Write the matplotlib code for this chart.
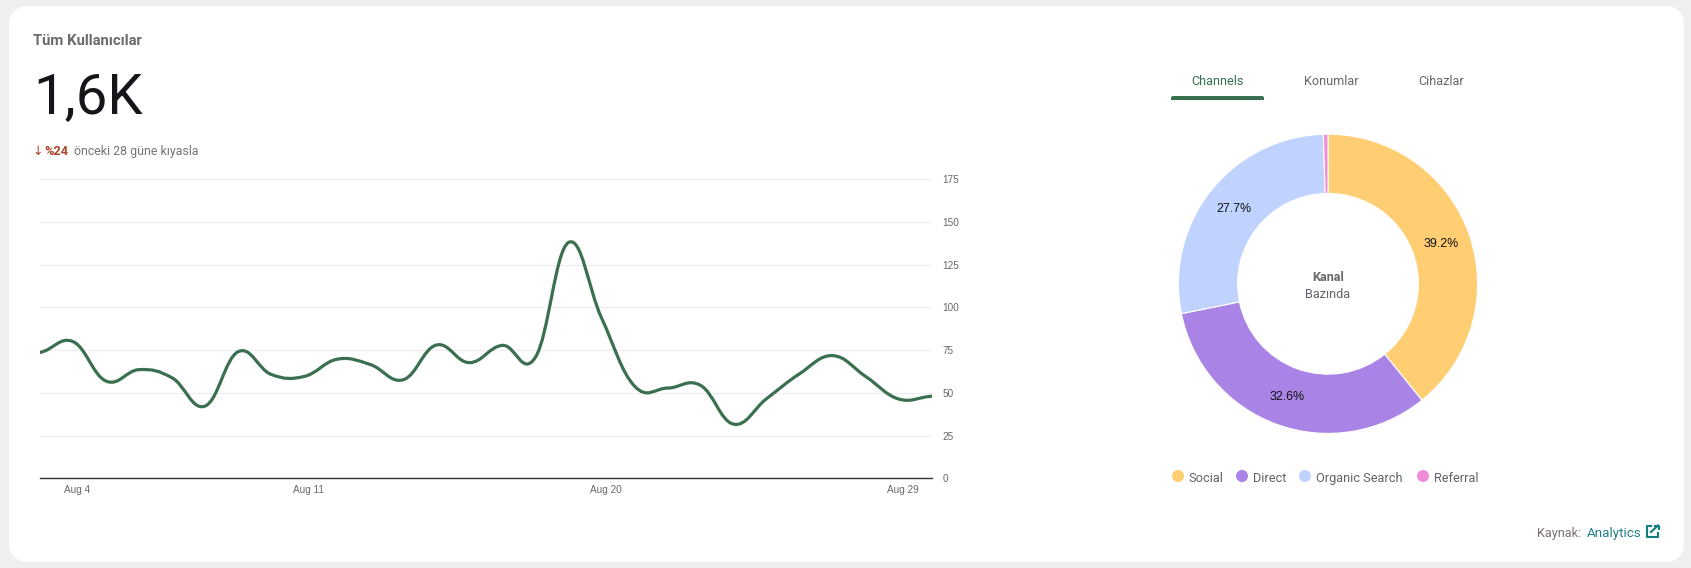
import matplotlib
matplotlib.use('Agg')
import matplotlib.pyplot as plt
from matplotlib.patches import FancyBboxPatch, PathPatch, Circle, Rectangle
from matplotlib.path import Path

# daily users, Aug 3 - Aug 30
users = [73.7, 80, 56.9, 63.6, 58.8, 42.3, 74.1, 60.8, 59.6, 69.7, 66.6, 57.7, 78, 67.7,
         77.8, 70.8, 138, 94, 54, 52.8, 54.4, 31.7, 46.6, 61.2, 71.8, 59.6, 46.4, 48]
tick_days = [1, 8, 17, 26]
tick_names = ['Aug 4', 'Aug 11', 'Aug 20', 'Aug 29']
y_ticks = [0, 25, 50, 75, 100, 125, 150, 175]

channels = ['Social', 'Direct', 'Organic Search', 'Referral']
shares = [39.2, 32.6, 27.7, 0.5]
channel_colors = ['#ffce73', '#a984e6', '#c0d3ff', '#ef8ed6']

W, H = 1691, 568
GREEN = '#3a7050'
GREY = '#5f6368'
plt.rcParams['font.family'] = ['Roboto', 'DejaVu Sans']

fig = plt.figure(figsize=(W / 100, H / 100), dpi=100, facecolor='#efefef')


def box(x0, y0, x1, y1):
    # pixel box (y from the top) -> figure fractions
    return [x0 / W, 1 - y1 / H, (x1 - x0) / W, (y1 - y0) / H]


# canvas in pixels for the card and all the loose text
cv = fig.add_axes([0, 0, 1, 1], zorder=0)
cv.set_xlim(0, W)
cv.set_ylim(H, 0)
cv.axis('off')
cv.add_patch(FancyBboxPatch((9 + 20, 6 + 20), 1675 - 40, 556 - 40, boxstyle='round,pad=20,rounding_size=20',
                            fc='white', ec='none'))


def label(x, y, s, size, color=GREY, ha='left', weight='normal'):
    return cv.text(x, y, s, fontsize=size, color=color, ha=ha, va='center_baseline', fontweight=weight)


label(33, 39.5, 'Tüm Kullanıcılar', 10.7, '#6a6a6a', weight='bold')
cv.text(33, 113.3, '1,6K', fontsize=40.5, color='#14161a', va='baseline')
label(32, 150, '↓', 9, '#a8452a')
label(44, 150, '%24', 9.2, '#a8452a', weight='bold')
label(74, 150, 'önceki 28 güne kıyasla', 8.9, '#70757a')

# line chart
ax = fig.add_axes(box(40, 179.3, 931.7, 478.3), zorder=1)
ax.patch.set_visible(False)
ax.set_xlim(0, len(users) - 1)
ax.set_ylim(0, 175)
for s in ['top', 'left', 'right']:
    ax.spines[s].set_visible(False)
ax.spines['bottom'].set_color('#333333')
ax.spines['bottom'].set_linewidth(1)
ax.set_yticks(y_ticks)
ax.yaxis.tick_right()
ax.grid(axis='y', color='#ededf1', linewidth=0.8)
ax.set_axisbelow(True)
ax.set_xticks([d + 0.12 for d in tick_days])
ax.set_xticklabels(tick_names)
ax.tick_params(length=0, colors='#666666', labelsize=7.2, labelfontfamily='Liberation Sans')
ax.tick_params(axis='y', pad=7.6)
ax.tick_params(axis='x', pad=4.5)

# curve through the daily values, same tension idea as the web chart
t = 0.2
verts = [(0, users[0])]
codes = [Path.MOVETO]
for i in range(len(users) - 1):
    prev = users[max(i - 1, 0)]
    nxt = users[min(i + 2, len(users) - 1)]
    verts += [(i + 2 * t, users[i] + t * (users[i + 1] - prev)),
              (i + 1 - 2 * t, users[i + 1] - t * (nxt - users[i])),
              (i + 1, users[i + 1])]
    codes += [Path.CURVE4] * 3
ax.add_patch(PathPatch(Path(verts, codes), fc='none', ec=GREEN, lw=2.3, capstyle='round'))

# donut
ax2 = fig.add_axes(box(1328 - 149.6, 283.8 - 149.6, 1328 + 149.6, 283.8 + 149.6), zorder=1)
ax2.patch.set_visible(False)
wedges, _, pct = ax2.pie(shares, colors=channel_colors, startangle=90, counterclock=False,
                         radius=1, wedgeprops=dict(width=0.396, edgecolor='white', linewidth=0.8),
                         autopct=lambda p: f'{p:.1f}%' if p > 5 else '', pctdistance=0.802,
                         textprops=dict(fontsize=8.9, color='#111111', family='Liberation Sans'))
ax2.set_xlim(-1, 1)
ax2.set_ylim(-1, 1)

label(1328, 276, 'Kanal', 9.1, '#6a6a6a', ha='center', weight='bold')
label(1328, 293, 'Bazında', 9.1, GREY, ha='center')

# tabs
label(1217.7, 80, 'Channels', 9.1, GREEN, ha='center')
label(1331, 80, 'Konumlar', 9.1, '#666666', ha='center')
label(1441, 80, 'Cihazlar', 9.1, '#666666', ha='center')
cv.add_patch(FancyBboxPatch((1173, 98), 89, 5, boxstyle='round,pad=2,rounding_size=2', fc=GREEN, ec='none'))
cv.add_patch(Rectangle((1170, 100.3), 95, 8, fc='white', ec='none', zorder=2))

# legend
legend_x = [1178, 1242, 1305, 1423]
for x, name, c in zip(legend_x, channels, channel_colors):
    cv.add_patch(Circle((x, 476), 6, fc=c, ec='none'))
    label(x + 10.7, 477, name, 9.2, GREY)

# footer
label(1537, 531.7, 'Kaynak:', 9.2, '#7a6f6f')
label(1586.7, 531.7, 'Analytics', 9.6, '#1f7f86')
TEAL = '#0f8080'
cv.plot([1652, 1647, 1647, 1658, 1658], [526, 526, 537, 537, 532], color=TEAL, lw=1.5, solid_capstyle='butt')
cv.plot([1651, 1658], [532, 525.5], color=TEAL, lw=1.5)
cv.plot([1654, 1658.5, 1658.5], [525.5, 525.5, 530], color=TEAL, lw=1.5, solid_capstyle='butt')

fig.savefig('out.png', dpi=100, facecolor=fig.get_facecolor())
